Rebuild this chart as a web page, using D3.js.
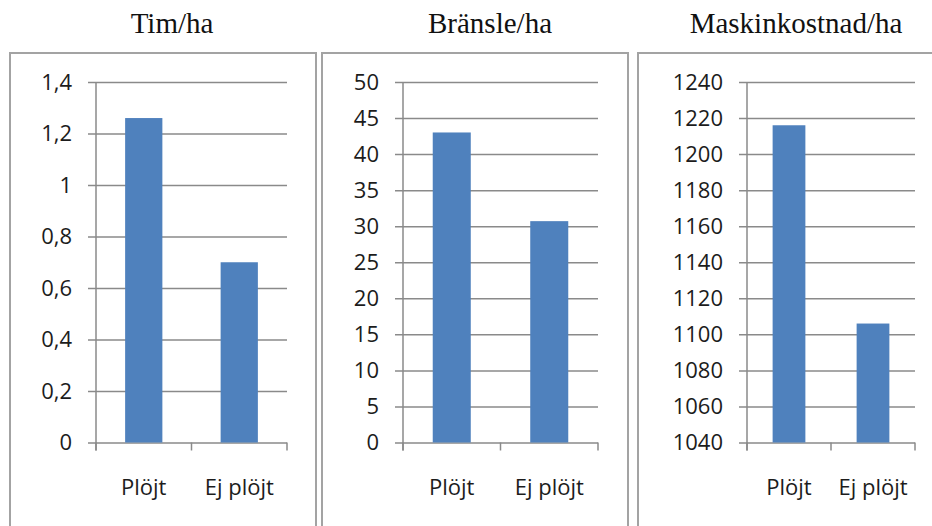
<!DOCTYPE html>
<html>
<head>
<meta charset="utf-8">
<script src="https://cdn.jsdelivr.net/npm/d3@7"></script>
<style>
  html, body { margin: 0; padding: 0; background: #fff; }
  svg { display: block; }
</style>
</head>
<body>
<div id="chart"></div>
<script>
// DATA
const categories = ['Plöjt', 'Ej plöjt'];
const titles = ['Tim/ha', 'Bränsle/ha', 'Maskinkostnad/ha'];
const timValues = [1.26, 0.70];
const bransleValues = [43, 30.7];
const maskinValues = [1216, 1106];
const timTicks = [0, 0.2, 0.4, 0.6, 0.8, 1, 1.2, 1.4];
const bransleTicks = [0, 5, 10, 15, 20, 25, 30, 35, 40, 45, 50];
const maskinTicks = [1040, 1060, 1080, 1100, 1120, 1140, 1160, 1180, 1200, 1220, 1240];

const width = 932;
const height = 526;

// swedish number format (decimal comma)
const sv = d3.formatLocale({ decimal: ',', thousands: '\u00a0', grouping: [3], currency: ['', ' kr'] });
const fmt = sv.format('~g');

// layout of the three framed panels
const panels = [
    { values: timValues, ticks: timTicks, title: titles[0], boxL: 10, boxR: 316, axisX: 96, plotR: 287, titleX: 172 },
    { values: bransleValues, ticks: bransleTicks, title: titles[1], boxL: 322, boxR: 628, axisX: 403, plotR: 598, titleX: 490 },
    { values: maskinValues, ticks: maskinTicks, title: titles[2], boxL: 638, boxR: 936, axisX: 747, plotR: 915, titleX: 796 },
];

const plotTop = 82;
const plotBottom = 442.5;
const boxTop = 53;

const svg = d3
    .select('#chart')
    .append('svg')
    .attr('width', width)
    .attr('height', height)
    .attr('viewBox', [0, 0, width, height]);

panels.forEach((p) => {
    const g = svg.append('g');

    // FRAME
    g.append('rect')
        .attr('x', p.boxL)
        .attr('y', boxTop)
        .attr('width', p.boxR - p.boxL)
        .attr('height', height - boxTop + 20)
        .attr('fill', '#fff')
        .attr('stroke', '#a3a3a3')
        .attr('stroke-width', 2);

    // TITLE
    g.append('text')
        .attr('x', p.titleX)
        .attr('y', 33)
        .attr('text-anchor', 'middle')
        .attr('font-family', '"Liberation Serif", "Times New Roman", serif')
        .attr('font-size', 29)
        .attr('fill', '#111')
        .text(p.title);

    const y = d3
        .scaleLinear()
        .domain([p.ticks[0], p.ticks[p.ticks.length - 1]])
        .range([plotBottom, plotTop]);

    const x = d3
        .scaleBand()
        .domain(categories)
        .range([p.axisX, p.plotR])
        .paddingInner(0.61)
        .paddingOuter(0.305);

    // Y AXIS + GRIDLINES
    const yAxis = d3
        .axisLeft(y)
        .tickValues(p.ticks)
        .tickFormat(fmt)
        .tickSize(-(p.plotR - p.axisX))
        .tickSizeOuter(0);

    g.append('g')
        .attr('transform', `translate(${p.axisX},0)`)
        .call(yAxis)
        .call((a) => a.select('.domain').remove())
        .call((a) =>
            a.selectAll('.tick line')
                .attr('x1', -8)
                .attr('stroke', '#8a8a8a')
                .attr('stroke-width', 1.5)
        )
        .call((a) =>
            a.selectAll('.tick text')
                .attr('x', -24)
                .attr('font-family', '"Open Sans", sans-serif')
                .attr('font-size', 22)
                .attr('fill', '#1c1c1c')
        );

    // BARS
    g.append('g')
        .selectAll('rect')
        .data(p.values)
        .join('rect')
        .attr('x', (d, i) => x(categories[i]))
        .attr('y', (d) => y(d))
        .attr('width', x.bandwidth())
        .attr('height', (d) => y(p.ticks[0]) - y(d))
        .attr('fill', '#4f81bd');

    // VERTICAL AXIS LINE
    g.append('line')
        .attr('x1', p.axisX)
        .attr('x2', p.axisX)
        .attr('y1', plotTop)
        .attr('y2', plotBottom + 8)
        .attr('stroke', '#8a8a8a')
        .attr('stroke-width', 1.5);

    // CATEGORY TICKS (at band boundaries)
    const bounds = d3.range(categories.length + 1).map((i) => p.axisX + i * x.step());
    g.append('g')
        .selectAll('line')
        .data(bounds)
        .join('line')
        .attr('x1', (d) => d)
        .attr('x2', (d) => d)
        .attr('y1', plotBottom)
        .attr('y2', plotBottom + 8)
        .attr('stroke', '#8a8a8a')
        .attr('stroke-width', 1.5);

    // X AXIS LABELS
    g.append('g')
        .attr('transform', `translate(0,${plotBottom})`)
        .call(d3.axisBottom(x).tickSize(0).tickPadding(37))
        .call((a) => a.select('.domain').remove())
        .call((a) =>
            a.selectAll('.tick text')
                .attr('font-family', '"Open Sans", sans-serif')
                .attr('font-size', 22)
                .attr('fill', '#1c1c1c')
        );
});
</script>
</body>
</html>
